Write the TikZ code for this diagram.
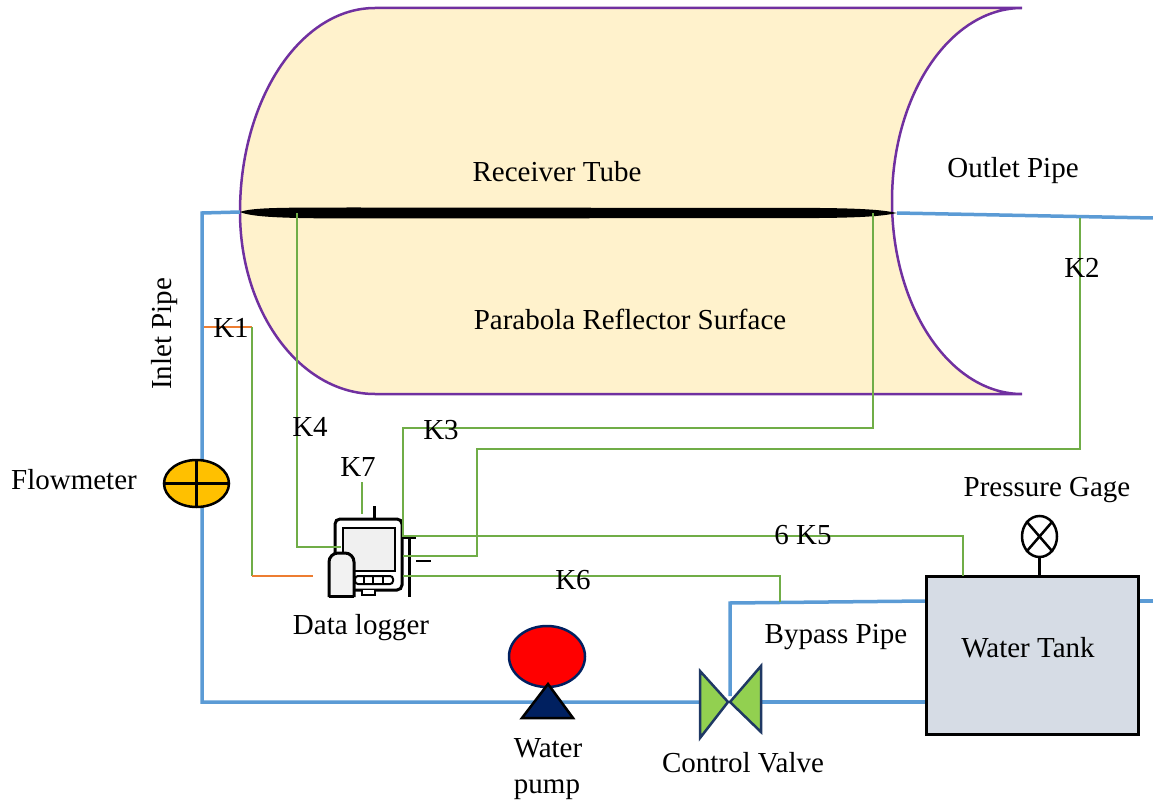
\documentclass[tikz,border=0pt]{standalone}
\usepackage{fontspec}
\setmainfont{Liberation Serif}
\usetikzlibrary{shapes.geometric}
\definecolor{pipeblue}{HTML}{5B9BD5}
\definecolor{wiregreen}{HTML}{70AD47}
\definecolor{wireorange}{HTML}{ED7D31}
\definecolor{cream}{HTML}{FFF2CC}
\definecolor{edgepurple}{HTML}{7030A0}
\definecolor{meteryellow}{HTML}{FFC000}
\definecolor{tankgray}{HTML}{D6DCE5}
\definecolor{navy}{HTML}{002060}
\definecolor{valvegreen}{HTML}{92D050}
\definecolor{valveedge}{HTML}{1F3864}
\begin{document}
\begin{tikzpicture}[x=1pt,y=-1pt,
  lbl/.style={font=\fontsize{29}{33}\selectfont, inner sep=0pt, anchor=base},
  pipe/.style={draw=pipeblue, line width=3.5pt},
  wire/.style={draw=wiregreen, line width=1.3pt},
  owire/.style={draw=wireorange, line width=1.3pt},
]
\useasboundingbox (0,0) rectangle (1153,802);

% ---------- parabolic reflector surface ----------
\path[fill=cream, draw=edgepurple, line width=2.5pt]
  (375,8) -- (1022,8)
  arc[start angle=270, end angle=90, x radius=130, y radius=193]
  -- (375,394)
  arc[start angle=90, end angle=180, x radius=135, y radius=182]
  arc[start angle=180, end angle=270, x radius=135, y radius=204]
  -- cycle;

% ---------- receiver tube ----------
\coordinate (tubeL) at (240,212);
\coordinate (tubeR) at (897,213);
\fill (tubeL) .. controls (252,207.5) and (280,207.5) .. (360,207.5)
  -- (820,208) .. controls (870,208.5) and (885,210.5) .. (tubeR)
  .. controls (885,215.5) and (870,217.5) .. (820,218)
  -- (360,218.5) .. controls (280,218.5) and (252,217) .. cycle;

% ---------- pipes ----------
\coordinate (inA) at (202,213);
\coordinate (inB) at (202,702);
\coordinate (valveL) at (700,702);
\coordinate (valveR) at (761,702);
\coordinate (bypassB) at (730,696);
\coordinate (bypassC) at (730,603);
\coordinate (outEnd) at (1153,218);
\coordinate (tankOut) at (1153,601);
\coordinate (tankIn) at (926,702);
\coordinate (tankBy) at (926,601);
\coordinate (tankOutL) at (1138,601);
\draw[pipe, line join=miter] (tubeL) -- (inA) -- (inB) -- (valveL);
\draw[pipe] (valveR) -- (tankIn);
\draw[pipe, line join=miter] (bypassB) -- (bypassC) -- (tankBy);
\draw[pipe] (tankOutL) -- (tankOut);
\draw[pipe] (tubeR) -- (outEnd);

% ---------- components ----------
% flowmeter
\node[ellipse, draw, line width=2.5pt, fill=meteryellow, minimum width=65pt,
  minimum height=47pt, inner sep=0pt] (flow) at (196.5,483.5) {};
\draw[line width=2.5pt] (flow.north) -- (flow.south) (flow.west) -- (flow.east);

% water tank
\node[draw, line width=3pt, fill=tankgray, minimum width=212pt, minimum height=158pt,
  inner sep=0pt] (tank) at (1032,655) {};

% pressure gage
\node[ellipse, draw, line width=2.5pt, fill=white, minimum width=35pt,
  minimum height=41pt, inner sep=0pt] (gage) at (1039.5,536.5) {};
\draw[line width=2.5pt] (gage.north west) -- (gage.south east)
  (gage.north east) -- (gage.south west);
\draw[line width=2.5pt] (gage.south) -- (gage.south |- tank.north);

% water pump
\node[ellipse, draw=navy, line width=2.5pt, fill=red, minimum width=76pt,
  minimum height=61pt, inner sep=0pt] (pump) at (547,656.5) {};
\draw[line width=2.5pt, fill=navy] (548,684) -- (573,718) -- (522,718) -- cycle;

% control valve
\draw[draw=valveedge, line width=2.5pt, fill=valvegreen, line join=miter]
  (700,671) -- (728,702) -- (700,738) -- cycle;
\draw[draw=valveedge, line width=2.5pt, fill=valvegreen, line join=miter]
  (761,666) -- (730,702) -- (761,732) -- cycle;

% ---------- data logger ----------
\draw[line width=3pt] (374,506) -- (374,519);
\draw[line width=3pt, fill=white, rounded corners=5pt] (335,519) rectangle (402,590);
\draw[line width=2.5pt, fill=black!6] (343,528) rectangle (395,571);
\draw[line width=2pt, fill=white] (362,590) -- (362,595) -- (375,595) -- (375,590);
\draw[line width=2pt, fill=white, rounded corners=3pt] (355,576) rectangle (393,584);
\draw[line width=2pt] (364,576) -- (364,584) (373,576) -- (373,584) (383,576) -- (383,584);
\draw[line width=3pt, fill=black!5, rounded corners=9pt] (329,597) -- (329,553) -- (354,553) -- (354,597);
\draw[line width=3pt] (329,596) -- (354,596);
\draw[line width=3pt] (409,538) -- (409,597);
\draw[line width=2pt] (403,538) -- (416,538);
\draw[line width=2pt] (416,561) -- (431,561);

% ---------- thermocouple wires ----------
\coordinate (k1a) at (204,327);
\coordinate (k1b) at (252,327);
\coordinate (k1c) at (252,576);
\coordinate (k1d) at (313,576);
\draw[owire] (k1a) -- (k1b);
\draw[wire] (k1b) -- (k1c);
\draw[owire] (k1c) -- (k1d);
\coordinate (k4a) at (297,213);
\draw[wire] (k4a) |- (341,547);
\coordinate (k7a) at (362,482);
\draw[wire] (k7a) -- (362,514);
\coordinate (k3a) at (873,213);
\coordinate (k5a) at (963,576);
\draw[wire] (k3a) -- (873,428) -- (403,428) -- (403,536) -- (963,536) -- (k5a);
\coordinate (k2a) at (1080,218);
\draw[wire] (k2a) -- (1080,449) -- (477,449) -- (477,556) -- (403,556);
\coordinate (k6a) at (780,602);
\draw[wire] (403,576) -- (780,576) -- (k6a);

% ---------- labels ----------
\node[lbl] (tRecv) at (557,182) {Receiver Tube};
\node[lbl] (tOut) at (1013,178) {Outlet Pipe};
\node[lbl] (tPar) at (630,329) {Parabola Reflector Surface};
\node[lbl, rotate=90] (tIn) at (171,334) {Inlet Pipe};
\node[lbl] (tK1) at (231,337) {K1};
\node[lbl] (tK2) at (1082,277) {K2};
\node[lbl] (tK3) at (441,439) {K3};
\node[lbl] (tK4) at (310,436) {K4};
\node[lbl] (tK7) at (358,476) {K7};
\node[lbl] (tK5) at (803,544) {6 K5};
\node[lbl] (tK6) at (573,589) {K6};
\node[lbl] (tFlow) at (74,489) {Flowmeter};
\node[lbl] (tDl) at (361,634) {Data logger};
\node[lbl] (tGage) at (1047,496) {Pressure Gage};
\node[lbl] (tBy) at (836,643) {Bypass Pipe};
\node[lbl] (tTank) at (1028,657) {Water Tank};
\node[lbl] (tWater) at (548,757) {Water};
\node[lbl] (tPump) at (547,793) {pump};
\node[lbl] (tValve) at (743,772) {Control Valve};
\end{tikzpicture}
\end{document}
